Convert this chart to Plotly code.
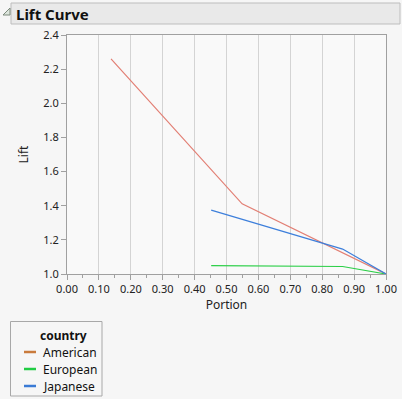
import plotly.graph_objects as go

countries = ["American", "European", "Japanese"]
american_portion = [0.138, 0.549, 1.0]
american_lift = [2.26, 1.411, 1.0]
european_portion = [0.452, 0.864, 1.0]
european_lift = [1.049, 1.044, 1.0]
japanese_portion = [0.452, 0.864, 1.0]
japanese_lift = [1.374, 1.146, 1.0]

line_colors = {"American": "#E27F74", "European": "#2CCF48", "Japanese": "#3D7FDB"}
legend_colors = {"American": "#C97B3C", "European": "#22CC44", "Japanese": "#3A7BD5"}
data = {
    "American": (american_portion, american_lift),
    "European": (european_portion, european_lift),
    "Japanese": (japanese_portion, japanese_lift),
}

FONT = "Noto Sans"
fig = go.Figure()
for c in countries:
    xs, ys = data[c]
    fig.add_trace(go.Scatter(x=xs, y=ys, mode="lines", line=dict(color=line_colors[c], width=1.2),
                             showlegend=False, hoverinfo="skip"))

L, R, T, B = 67, 16, 35, 125
W, H = 402, 399
pw, ph = W - L - R, H - T - B

def px(x):
    return (x - L) / pw

def py(y):
    return (H - B - y) / ph

shapes = [
    dict(type="rect", xref="paper", yref="paper", x0=px(11), x1=px(400), y0=py(24), y1=py(3),
         fillcolor="#E9E9E9", line=dict(color="#BDBDBD", width=1), layer="below"),
    dict(type="path", xref="paper", yref="paper",
         path=f"M {px(3)} {py(15)} L {px(10)} {py(15)} L {px(10)} {py(8)} Z",
         line=dict(color="#7C8A7C", width=1), fillcolor="#DDE6DD"),
    dict(type="rect", xref="paper", yref="paper", x0=px(10.5), x1=px(102), y0=py(396), y1=py(321.5),
         fillcolor="rgba(0,0,0,0)", line=dict(color="#A8A8A8", width=1)),
]
annotations = [
    dict(text="<b>Lift Curve</b>", xref="paper", yref="paper", x=px(14), y=py(14),
         xanchor="left", yanchor="middle", showarrow=False,
         font=dict(family=FONT, size=15, color="#111111")),
    dict(text="<b>country</b>", xref="paper", yref="paper", x=px(63), y=py(335),
         xanchor="center", yanchor="middle", showarrow=False,
         font=dict(family=FONT, size=12, color="#111111")),
]
for i, c in enumerate(countries):
    yy = 352 + 17 * i
    shapes.append(dict(type="line", xref="paper", yref="paper", x0=px(24), x1=px(36), y0=py(yy), y1=py(yy),
                       line=dict(color=legend_colors[c], width=2.5)))
    annotations.append(dict(text=c, xref="paper", yref="paper", x=px(41), y=py(yy),
                            xanchor="left", yanchor="middle", showarrow=False,
                            font=dict(family=FONT, size=12, color="#111111")))

fig.update_layout(
    width=W, height=H,
    margin=dict(l=L, r=R, t=T, b=B, autoexpand=False),
    paper_bgcolor="#F6F6F6", plot_bgcolor="#F9F9F9",
    font=dict(family=FONT, size=11, color="#222222"),
    showlegend=False,
    xaxis=dict(range=[0, 1], tickvals=[i / 10 for i in range(11)],
               ticktext=[f"{i/10:.2f}" for i in range(11)],
               showgrid=True, gridcolor="#D4D4D4", gridwidth=1, zeroline=False,
               showline=True, linecolor="#A0A0A0", linewidth=1, mirror=True,
               ticks="outside", ticklen=5, tickcolor="#A0A0A0",
               minor=dict(dtick=0.05, tick0=0, ticks="outside", ticklen=3, tickcolor="#A0A0A0", showgrid=False),
               title=dict(text="Portion", font=dict(size=12), standoff=4),
               automargin=False, fixedrange=True),
    yaxis=dict(range=[1.0, 2.4], tickvals=[1.0, 1.2, 1.4, 1.6, 1.8, 2.0, 2.2, 2.4],
               ticktext=["1.0", "1.2", "1.4", "1.6", "1.8", "2.0", "2.2", "2.4"],
               showgrid=False, zeroline=False,
               showline=True, linecolor="#A0A0A0", linewidth=1, mirror=True,
               ticks="outside", ticklen=5, tickcolor="#A0A0A0",
               title=dict(text="Lift", font=dict(size=12), standoff=12),
               automargin=False, fixedrange=True),
    shapes=shapes,
    annotations=annotations,
)

fig.write_html("out.html", config={"displayModeBar": False},
               post_script="document.body.style.margin='0';document.body.style.overflow='hidden';document.body.style.background='#F6F6F6';")
